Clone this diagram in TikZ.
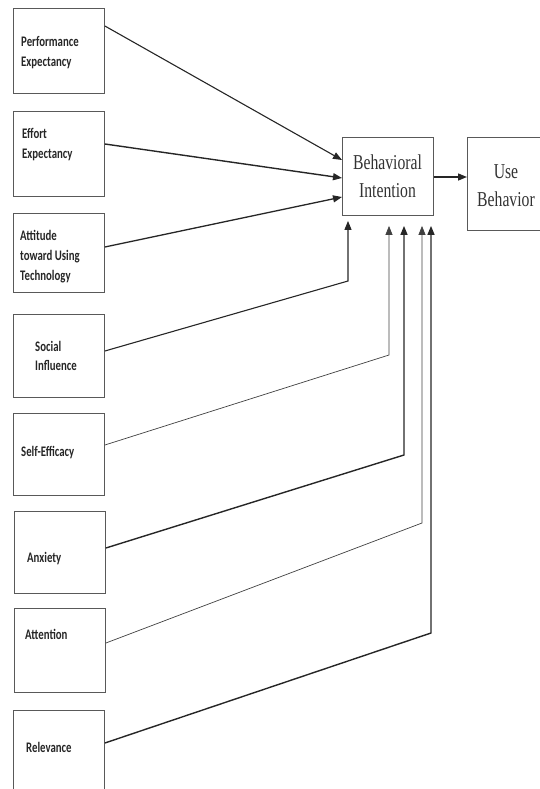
\documentclass[tikz,border=0pt]{standalone}
\usepackage{fontspec}
\newfontfamily\lblfont{Carlito}
\newfontfamily\serfont{Liberation Serif}
\usetikzlibrary{arrows.meta}
\newcommand\vst[1]{\scalebox{1}[1.35]{#1}}
\newcommand\lbl[1]{\vst{\lblfont\bfseries\fontsize{10.8}{14.8}\selectfont\begin{tabular}{@{}l@{}}#1\end{tabular}}}
\newcommand\ser[1]{\vst{\serfont\fontsize{15.7}{21}\selectfont\begin{tabular}{@{}c@{}}#1\end{tabular}}}
\begin{document}
\begin{tikzpicture}[x=1pt,y=-1pt,
  box/.style={draw=black!65, line width=0.9pt, inner sep=0pt, anchor=north west, fill=none},
  txt/.style={inner sep=0pt, anchor=west, text=black!85},
  conn/.style={draw=black!85, line width=1.1pt},
  thin/.style={draw=black!75, line width=0.7pt},
  tip/.style={-{Triangle[length=9pt,width=7pt]}}]
\useasboundingbox (0,0) rectangle (539,789);
% left boxes
\node[box, minimum width=91pt, minimum height=85pt] (b1) at (13,8) {};
\node[box, minimum width=91pt, minimum height=85pt] (b2) at (13,111) {};
\node[box, minimum width=91pt, minimum height=79pt] (b3) at (13,213) {};
\node[box, minimum width=91pt, minimum height=83pt] (b4) at (13,314) {};
\node[box, minimum width=91pt, minimum height=82pt] (b5) at (13,413) {};
\node[box, minimum width=91pt, minimum height=82pt] (b6) at (14,511) {};
\node[box, minimum width=91pt, minimum height=84pt] (b7) at (14,608) {};
\node[box, minimum width=91pt, minimum height=95pt] (b8) at (13,710) {};
% right boxes
\node[box, minimum width=91pt, minimum height=78pt] (bi) at (342,137) {};
\node[box, minimum width=78pt, minimum height=93pt] (ub) at (467,137) {};
% labels
\node[txt] (t1) at (21,52.7) {\lbl{Performance\\Expectancy}};
\node[txt] (t2) at (22,144.5) {\lbl{Effort\\Expectancy}};
\node[txt] (t3) at (20,256.5) {\lbl{Attitude\\toward Using\\Technology}};
\node[txt] (t4) at (35,357) {\lbl{Social\\Influence}};
\node[txt] (t5) at (21,452) {\lbl{Self-Efficacy}};
\node[txt] (t6) at (27,558) {\lbl{Anxiety}};
\node[txt] (t7) at (25,635) {\lbl{Attention}};
\node[txt] (t8) at (26,748) {\lbl{Relevance}};
\node[inner sep=0pt, text=black!80] (tbi) at (387.5,178) {\ser{Behavioral\\Intention}};
\node[inner sep=0pt, text=black!80] (tub) at (506,187) {\ser{Use\\Behavior}};
% corners
\coordinate (k4) at (348,281);
\coordinate (k5) at (389,355);
\coordinate (k6) at (404,455);
\coordinate (k7) at (422,523);
\coordinate (k8) at (431,633);
% direct arrows
\draw[conn,tip] (b1.east |- 0,26) -- (bi.west |- 0,160);
\draw[conn,tip,line width=1.4pt] (b2.east |- 0,144) -- (bi.west |- 0,178);
\draw[conn,tip,line width=1.3pt] (b3.east |- 0,247) -- (bi.west |- 0,197);
\draw[conn,tip,line width=1.4pt] (bi.east |- 0,177) -- (ub.west |- 0,177);
% bent arrows
\draw[conn,tip,shorten >=5pt] (b4.east |- 0,351) -- (k4) -- (bi.south -| k4);
\draw[thin,tip,shorten >=10pt] (b5.east |- 0,445) -- (k5) -- (bi.south -| k5);
\draw[conn,tip,line width=1.4pt,shorten >=10pt] (b6.east |- 0,548) -- (k6) -- (bi.south -| k6);
\draw[thin,tip,shorten >=10pt] (b7.east |- 0,643) -- (k7) -- (bi.south -| k7);
\draw[conn,tip,line width=1.4pt,shorten >=10pt] (b8.east |- 0,743) -- (k8) -- (bi.south -| k8);
\end{tikzpicture}
\end{document}
